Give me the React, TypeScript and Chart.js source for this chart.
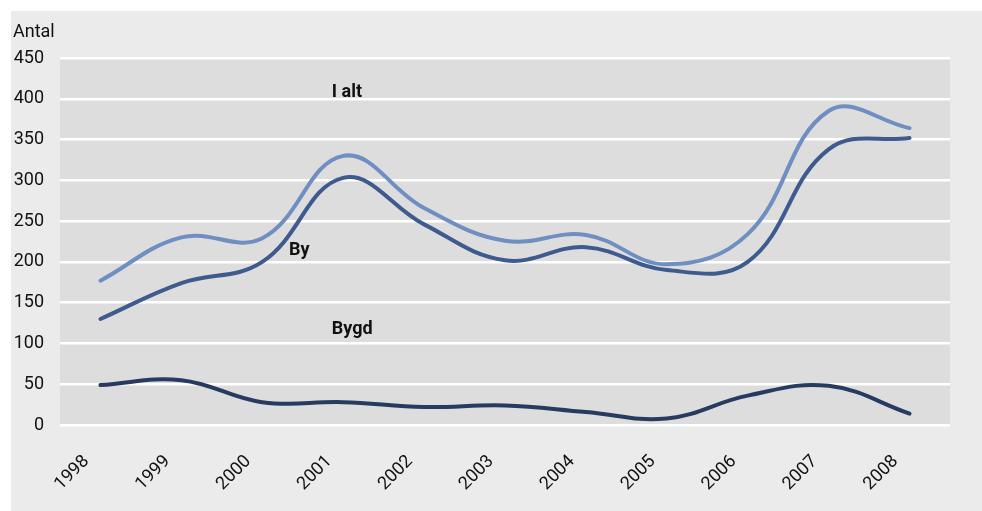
import { useEffect, useRef } from "react";
import { Chart, registerables } from "chart.js";

Chart.register(...registerables);

const years = ["1998", "1999", "2000", "2001", "2002", "2003", "2004", "2005", "2006", "2007", "2008"];
const iAlt = [177, 230, 229, 330, 266, 226, 233, 197, 234, 385, 364];
const by = [130, 174, 200, 303, 246, 202, 218, 190, 200, 338, 352];
const bygd = [49, 55, 28, 28, 22, 24, 16, 8, 36, 48, 14];
const seriesNames = ["I alt", "By", "Bygd"];
const yMin = 0;
const yMax = 450;
const yStep = 50;
const yTitle = "Antal";

const FONT = "Roboto, 'Open Sans', sans-serif";

const decorPlugin = {
  id: "decor",
  beforeDraw(chart: any) {
    const { ctx, width, height, chartArea } = chart;
    ctx.save();
    ctx.fillStyle = "#ffffff";
    ctx.fillRect(0, 0, width, height);
    ctx.fillStyle = "#ebebeb";
    ctx.fillRect(11, 11, width - 11, height - 11);
    ctx.fillStyle = "#dddddd";
    ctx.fillRect(chartArea.left, chartArea.top, chartArea.right - chartArea.left, chartArea.bottom - chartArea.top);
    ctx.fillStyle = "#111111";
    ctx.font = `18px ${FONT}`;
    ctx.textAlign = "left";
    ctx.textBaseline = "alphabetic";
    ctx.fillText(yTitle, 13, 37);
    ctx.restore();
  },
  afterDatasetsDraw(chart: any) {
    const { ctx } = chart;
    const xs = chart.scales.x;
    const ys = chart.scales.y;
    const anchors: [number, number][] = [
      [2.86, 402],
      [2.33, 209],
      [2.86, 112],
    ];
    ctx.save();
    ctx.fillStyle = "#111111";
    ctx.font = `bold 18px ${FONT}`;
    ctx.textAlign = "left";
    ctx.textBaseline = "alphabetic";
    seriesNames.forEach((name, i) => {
      const [ix, v] = anchors[i];
      ctx.fillText(name, xs.getPixelForValue(ix), ys.getPixelForValue(v));
    });
    ctx.restore();
  },
};

export default function App() {
  const ref = useRef<HTMLCanvasElement | null>(null);
  useEffect(() => {
    if (!ref.current) return;
    const chart = new Chart(ref.current, {
      type: "line",
      data: {
        labels: years,
        datasets: [
          {
            label: seriesNames[0],
            data: iAlt,
            borderColor: "#6f8ec1",
            borderWidth: 4,
            tension: 0.4,
            pointRadius: 0,
            borderCapStyle: "round",
          },
          {
            label: seriesNames[1],
            data: by,
            borderColor: "#3e5a8e",
            borderWidth: 4,
            tension: 0.4,
            pointRadius: 0,
            borderCapStyle: "round",
          },
          {
            label: seriesNames[2],
            data: bygd,
            borderColor: "#273b60",
            borderWidth: 4,
            tension: 0.4,
            pointRadius: 0,
            borderCapStyle: "round",
          },
        ],
      },
      options: {
        animation: false,
        responsive: true,
        maintainAspectRatio: false,
        layout: { padding: { left: 11, right: 32, top: 58, bottom: 0 } },
        plugins: {
          legend: { display: false },
          tooltip: { enabled: false },
        },
        scales: {
          x: {
            type: "category",
            offset: true,
            grid: { display: false, drawTicks: false },
            border: { display: false },
            ticks: {
              autoSkip: false,
              minRotation: 45,
              maxRotation: 45,
              padding: 26,
              labelOffset: -14,
              color: "#111111",
              font: { family: FONT, size: 18 },
            },
            afterFit: (s: any) => {
              s.height = 86;
            },
          },
          y: {
            min: yMin,
            max: yMax,
            grid: { color: "#ffffff", lineWidth: 2.5, drawTicks: false },
            border: { display: false },
            ticks: {
              stepSize: yStep,
              padding: 16,
              color: "#111111",
              font: { family: FONT, size: 18 },
            },
            afterFit: (s: any) => {
              s.width = 49;
            },
          },
        },
      },
      plugins: [decorPlugin],
    } as any);
    return () => chart.destroy();
  }, []);
  return (
    <div style={{ position: "fixed", left: 0, top: 0, width: 982, height: 511 }}>
      <canvas ref={ref} />
    </div>
  );
}
